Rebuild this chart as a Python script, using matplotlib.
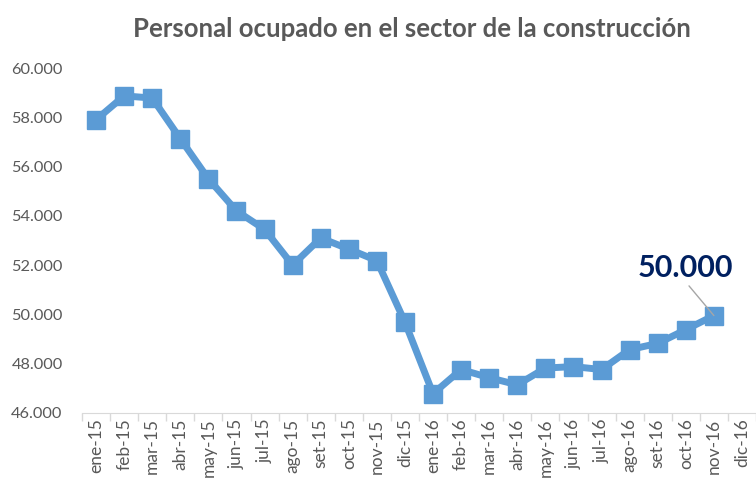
import numpy as np
import matplotlib
matplotlib.use("Agg")
import matplotlib.pyplot as plt

# Datos
meses = ["ene-15", "feb-15", "mar-15", "abr-15", "may-15", "jun-15", "jul-15", "ago-15",
         "set-15", "oct-15", "nov-15", "dic-15", "ene-16", "feb-16", "mar-16", "abr-16",
         "may-16", "jun-16", "jul-16", "ago-16", "set-16", "oct-16", "nov-16", "dic-16"]
personal = [57900, 58870, 58780, 57130, 55500, 54200, 53450, 52000,
            53100, 52650, 52180, 49680, 46780, 47760, 47430, 47140,
            47820, 47880, 47760, 48570, 48820, 49380, 49950]
yticks = [46000, 48000, 50000, 52000, 54000, 56000, 58000, 60000]
ytick_labels = ["46.000", "48.000", "50.000", "52.000", "54.000", "56.000", "58.000", "60.000"]

plt.rcParams['font.family'] = ['Lato', 'DejaVu Sans']

fig = plt.figure(figsize=(7.56, 4.79), dpi=100)
ax = fig.add_axes([0.1085, 0.138, 0.8915, 0.720])

x = np.arange(len(personal))
ax.plot(x, personal, color="#5B9BD5", linewidth=5, marker="s", markersize=12.5,
        solid_joinstyle="miter")

ax.set_xlim(-0.5, len(meses) - 0.5)
ax.set_ylim(46000, 60000)
ax.set_yticks(yticks)
ax.set_yticklabels(ytick_labels, fontsize=11.8, color="#595959")
ax.tick_params(axis="y", length=0, pad=14)

ax.set_xticks(np.arange(len(meses)))
ax.set_xticklabels(meses, rotation=90, fontsize=12.5, color="#595959")
ax.tick_params(axis="x", which="major", length=0, pad=4)
ax.set_xticks(np.arange(len(meses) + 1) - 0.5, minor=True)
ax.tick_params(axis="x", which="minor", length=6, color="#D9D9D9", width=1)

for s in ["top", "right", "left"]:
    ax.spines[s].set_visible(False)
ax.spines["bottom"].set_color("#D9D9D9")

# Etiqueta del último dato
last = len(personal) - 1
ax.annotate("50.000", xy=(last, personal[last]), xytext=(last - 1.0, 51880),
            fontsize=22, fontweight="bold", color="#002060", ha="center", va="center",
            arrowprops=dict(arrowstyle="-", color="#A6A6A6", lw=1, relpos=(0.5, 0),
                            shrinkA=1, shrinkB=0))

fig.text(0.545, 0.94, "Personal ocupado en el sector de la construcción",
         fontsize=18.5, fontweight="bold", color="#595959", ha="center", va="center")

fig.savefig("out.png", dpi=100)
